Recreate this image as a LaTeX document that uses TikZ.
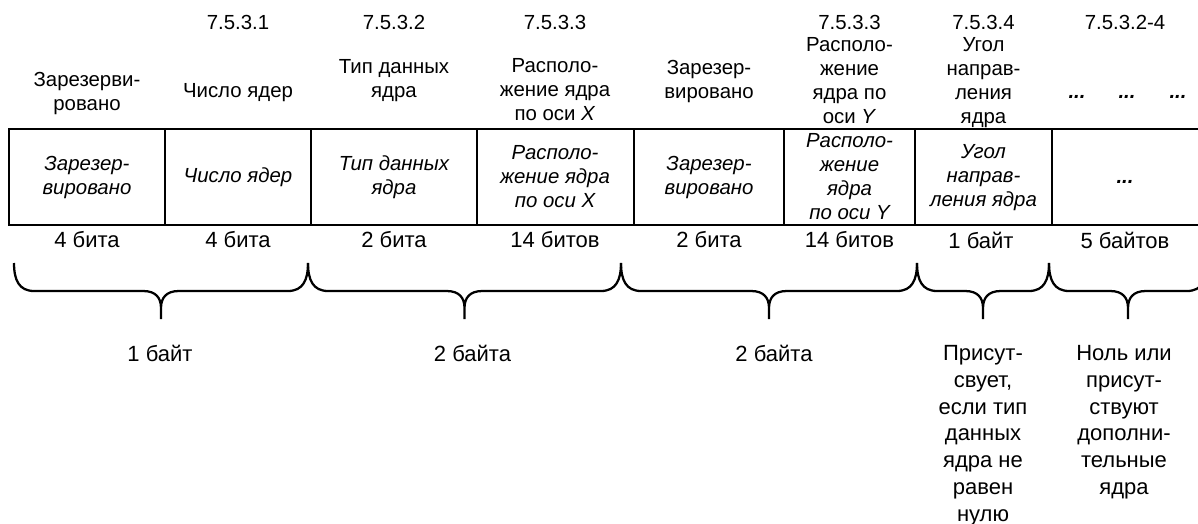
\documentclass[tikz,border=0pt]{standalone}
\usepackage{fontspec}
\setmainfont{Liberation Sans}

\begin{document}
\begin{tikzpicture}[x=0.75pt,y=0.75pt,yscale=-1,xscale=1,
    hdr/.style={inner sep=0.75pt, align=center, font=\fontsize{15.3}{18}\selectfont},
    fld/.style={inner sep=0.75pt, align=center, font=\fontsize{15.3}{18}\selectfont\itshape},
    sz/.style={inner sep=0.75pt, align=center, font=\fontsize{16.5}{20.1}\selectfont},
    brace/.style={line width=1.7}]
        \useasboundingbox (0,0) rectangle (1198,524);

        %Straight Lines: frame, open at the right
        \draw [line width=1.8]    (1198,129) -- (9,129) -- (9,225) -- (1198,225) ;
        %Straight Lines
        \draw [line width=1.8]    (165,129) -- (165,225) ;
        %Straight Lines
        \draw [line width=1.8]    (311,129) -- (311,225) ;
        %Straight Lines
        \draw [line width=1.8]    (477,129) -- (477,225) ;
        %Straight Lines
        \draw [line width=1.8]    (634,129) -- (634,225) ;
        %Straight Lines
        \draw [line width=1.8]    (784,129) -- (784,225) ;
        %Straight Lines
        \draw [line width=1.8]    (915,129) -- (915,225) ;
        %Straight Lines
        \draw [line width=1.8]    (1052,129) -- (1052,225) ;

        %Shape: Brace
        \draw [brace]  (14,263) .. controls (14,280) and (19,291) .. (34,291) -- (143,291) .. controls (156,291) and (161,298) .. (161,308) -- (161,319) (161,308) .. controls (161,298) and (166,291) .. (179,291) -- (288,291) .. controls (303,291) and (308,280) .. (308,263) ;
        %Shape: Brace
        \draw [brace]  (308,263) .. controls (308,280) and (313,291) .. (328,291) -- (446.5,291) .. controls (459.5,291) and (464.5,298) .. (464.5,308) -- (464.5,319) (464.5,308) .. controls (464.5,298) and (469.5,291) .. (482.5,291) -- (601,291) .. controls (616,291) and (621,280) .. (621,263) ;
        %Shape: Brace
        \draw [brace]  (621,263) .. controls (621,280) and (626,291) .. (641,291) -- (751,291) .. controls (764,291) and (769,298) .. (769,308) -- (769,319) (769,308) .. controls (769,298) and (774,291) .. (787,291) -- (897,291) .. controls (912,291) and (917,280) .. (917,263) ;
        %Shape: Brace
        \draw [brace]  (917,263) .. controls (917,280) and (922,291) .. (937,291) -- (965,291) .. controls (978,291) and (983,298) .. (983,308) -- (983,319) (983,308) .. controls (983,298) and (988,291) .. (1001,291) -- (1029,291) .. controls (1044,291) and (1049,280) .. (1049,263) ;
        %Shape: Brace
        \draw [brace]  (1049,263) .. controls (1049,280) and (1054,291) .. (1069,291) -- (1110,291) .. controls (1123,291) and (1128,298) .. (1128,308) -- (1128,319) (1128,308) .. controls (1128,298) and (1133,291) .. (1146,291) -- (1187,291) .. controls (1202,291) and (1207,280) .. (1207,263) ;

        % Text Node
        \node [hdr] (sec2) at (238,22) {7.5.3.1};
        % Text Node
        \node [hdr] (sec3) at (394,22) {7.5.3.2};
        % Text Node
        \node [hdr] (sec4) at (555,22) {7.5.3.3};
        % Text Node
        \node [hdr] (sec6) at (849.5,22) {7.5.3.3};
        % Text Node
        \node [hdr] (sec7) at (983.5,22) {7.5.3.4};
        % Text Node
        \node [hdr] (sec8) at (1125,22) {7.5.3.2-4};

        % Text Node
        \node [hdr] (hd1) at (87,94) {Зарезерви-\\ровано};
        % Text Node
        \node [hdr] (hd2) at (238,93) {Число ядер};
        % Text Node
        \node [hdr] (hd3) at (394,80.5) {Тип данных\\ядра};
        % Text Node
        \node [hdr] (hd4) at (555,90) {Располо-\\жение ядра\\по оси \textit{X}};
        % Text Node
        \node [hdr] (hd5) at (709,81.5) {Зарезер-\\вировано};
        % Text Node
        \node [hdr] (hd6) at (849.5,81) {Располо-\\жение\\ядра по\\оси \textit{Y}};
        % Text Node
        \node [hdr] (hd7) at (983.5,83) {Угол\\направ-\\ления\\ядра};
        % Text Node
        \node [hdr, font=\fontsize{15.3}{18}\selectfont\bfseries\itshape] (hd8a) at (1077,97) {...};
        % Text Node
        \node [hdr, font=\fontsize{15.3}{18}\selectfont\bfseries\itshape] (hd8b) at (1127,97) {...};
        % Text Node
        \node [hdr, font=\fontsize{15.3}{18}\selectfont\bfseries\itshape] (hd8c) at (1178,97) {...};

        % Text Node
        \node [fld] (fd1) at (87,177.5) {Зарезер-\\вировано};
        % Text Node
        \node [fld] (fd2) at (238,177.5) {Число ядер};
        % Text Node
        \node [fld] (fd3) at (394,177.5) {Тип данных\\ядра};
        % Text Node
        \node [fld] (fd4) at (555,176.5) {Располо-\\жение ядра\\по оси X};
        % Text Node
        \node [fld] (fd5) at (709,177.5) {Зарезер-\\вировано};
        % Text Node
        \node [fld] (fd6) at (849.5,176.5) {Располо-\\жение\\ядра\\по оси Y};
        % Text Node
        \node [fld] (fd7) at (983.5,178) {Угол\\направ-\\ления ядра};
        % Text Node
        \node [fld, font=\fontsize{15.3}{18}\selectfont\bfseries\itshape] (fd8) at (1125,182) {...};

        % Text Node
        \node [sz] (sz1) at (87,240) {4 бита};
        % Text Node
        \node [sz] (sz2) at (238,240) {4 бита};
        % Text Node
        \node [sz] (sz3) at (394,240) {2 бита};
        % Text Node
        \node [sz] (sz4) at (555,240) {14 битов};
        % Text Node
        \node [sz] (sz5) at (709,240) {2 бита};
        % Text Node
        \node [sz] (sz6) at (849.5,240) {14 битов};
        % Text Node
        \node [sz] (sz7) at (981,240) {1 байт};
        % Text Node
        \node [sz] (sz8) at (1125,240) {5 байтов};

        % Text Node
        \node [sz, anchor=north] (tot1) at (160,344) {1 байт};
        % Text Node
        \node [sz, anchor=north] (tot2) at (472.5,344) {2 байта};
        % Text Node
        \node [sz, anchor=north] (tot3) at (774,344) {2 байта};
        % Text Node
        \node [sz, anchor=north] (tot4) at (983,344) {Присут-\\свует,\\если тип\\данных\\ядра не\\равен\\нулю};
        % Text Node
        \node [sz, anchor=north] (tot5) at (1124,344) {Ноль или\\присут-\\ствуют\\дополни-\\тельные\\ядра};

\end{tikzpicture}
\end{document}
